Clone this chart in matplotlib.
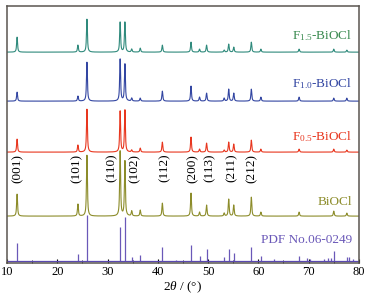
import numpy as np
import matplotlib
matplotlib.use('Agg')
import matplotlib.pyplot as plt
from matplotlib.ticker import MultipleLocator

plt.rcParams['font.family'] = ['Liberation Serif', 'DejaVu Serif']
plt.rcParams['mathtext.fontset'] = 'custom'
plt.rcParams['mathtext.rm'] = 'Liberation Serif'
plt.rcParams['mathtext.it'] = 'Liberation Serif:italic'

# peak positions (2theta, deg) of the measured patterns
peak_pos = [12.0, 24.1, 25.9, 32.5, 33.45, 34.8, 36.5, 40.9, 46.6, 48.3,
            49.7, 53.2, 54.1, 55.1, 58.6, 60.5, 68.1, 75.0, 77.6]

# peak heights (arbitrary units)
h_bioc = [22, 12, 61, 65, 55, 5, 6, 13, 23, 4, 11, 3, 17, 11, 19, 4, 4, 5, 3]
h_f05 = [13, 7, 43, 41, 42, 2, 4, 10, 15, 3, 9, 2, 10, 8, 12, 3, 3, 3, 2]
h_f10 = [9, 5, 39, 42, 37, 3, 3, 10, 15, 4, 8, 3, 12, 8, 12, 4, 4, 3, 3]
h_f15 = [15, 7, 33, 30, 30, 3, 4, 7, 10, 3, 7, 2, 8, 5, 10, 3, 3, 3, 2]

# standard card PDF No.06-0249 sticks
pdf_pos = [12.0, 24.1, 25.9, 32.5, 33.45, 34.8, 36.5, 40.9, 43.6, 46.6,
           48.3, 49.7, 53.2, 54.1, 55.1, 58.6, 60.5, 63.1, 68.1, 69.6,
           70.2, 73.1, 73.8, 74.5, 75.0, 77.6, 78.1, 78.8]
pdf_h = [18, 7, 46, 34, 44, 4, 6, 14, 1, 16,
         5, 12, 4, 12, 8, 14, 5, 2, 5, 3,
         2, 2, 3, 3, 10, 4, 4, 2]

hkl_labels = ['(001)', '(101)', '(110)', '(102)', '(112)',
              '(200)', '(113)', '(211)', '(212)']
hkl_pos = [12.1, 23.9, 30.8, 35.3, 41.3, 47.0, 50.3, 54.7, 58.7]

x = np.linspace(10, 80, 4000)


def pattern(pos, hts, w=0.12):
    y = np.zeros_like(x)
    for p, h in zip(pos, hts):
        y += h * (0.7 / (1 + ((x - p) / w) ** 2) + 0.3 * np.exp(-((x - p) / w) ** 2))
    return y


fig = plt.figure(figsize=(3.70, 3.07), dpi=100)
ax = fig.add_axes([0.019, 0.143, 0.951, 0.837])

series = [
    (h_bioc, 47, '#8c8c2a'),
    (h_f05, 111, '#e8361e'),
    (h_f10, 162, '#3346a2'),
    (h_f15, 211, '#2f8a7c'),
]
for hts, off, c in series:
    ax.plot(x, pattern(peak_pos, hts) + off, color=c, lw=0.8)

ax.vlines(pdf_pos, 2, np.array(pdf_h) + 2, color='#6a58b8', lw=0.9)
ax.axhline(2, color='#5a48b0', lw=0.9)

ax.text(78.7, 211 + 17, r'F$_{1.5}$-BiOCl', color='#3a8a50', fontsize=9.5, ha='right', va='center')
ax.text(78.7, 162 + 18, r'F$_{1.0}$-BiOCl', color='#3346a2', fontsize=9.5, ha='right', va='center')
ax.text(78.7, 111 + 16, r'F$_{0.5}$-BiOCl', color='#e8361e', fontsize=9.5, ha='right', va='center')
ax.text(78.7, 61, 'BiOCl', color='#8c8c2a', fontsize=9.5, ha='right', va='center')
ax.text(78.7, 23, 'PDF No.06-0249', color='#6a58b8', fontsize=9.5, ha='right', va='center')

for lab, p in zip(hkl_labels, hkl_pos):
    ax.text(p, 95, lab, rotation=90, fontsize=9.5, ha='center', va='center')

ax.set_xlim(10, 80)
ax.set_ylim(0, 257)
ax.set_yticks([])
ax.xaxis.set_major_locator(MultipleLocator(10))
ax.xaxis.set_minor_locator(MultipleLocator(5))
ax.tick_params(axis='x', which='both', direction='in', labelsize=9, pad=2)
ax.tick_params(axis='x', which='major', length=3)
ax.tick_params(axis='x', which='minor', length=2)
for s in ax.spines.values():
    s.set_color('#5a5550')
    s.set_linewidth(1.1)
ax.set_xlabel(r'$2\theta$ / (°)', fontsize=9.5, labelpad=1)

fig.savefig('out.png', dpi=100)
